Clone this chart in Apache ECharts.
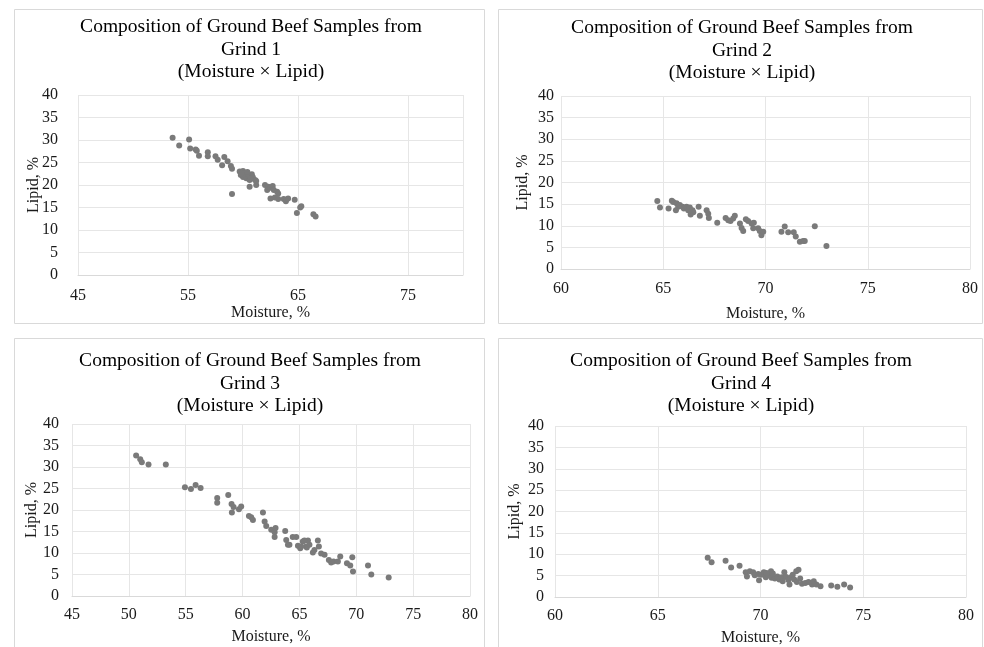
<!DOCTYPE html>
<html>
<head>
<meta charset="utf-8">
<script src="https://cdn.jsdelivr.net/npm/echarts@6/dist/echarts.min.js"></script>
<style>
  html, body { margin: 0; padding: 0; background: #fff; }
  #chart { width: 984px; height: 647px; }
</style>
</head>
<body>
<div id="chart"></div>
<script>
// [moisture %, lipid %]
var grind1 = [
  [53.6, 30.5], [54.2, 28.8], [55.1, 30.1], [55.2, 28.1], [55.7, 27.9], [55.8, 27.6],
  [56.0, 26.5], [56.8, 27.3], [56.8, 26.4], [57.5, 26.4], [57.7, 25.6], [58.1, 24.4],
  [58.3, 26.2], [58.6, 25.3], [58.9, 24.2], [59.0, 23.6], [59.0, 18.0], [59.7, 23.0],
  [59.8, 22.2], [60.0, 23.1], [60.2, 22.6], [60.0, 21.8], [60.3, 21.5], [60.5, 22.2],
  [60.6, 21.1], [60.6, 19.6], [60.8, 22.4], [60.9, 21.7], [61.1, 21.1], [61.2, 20.0],
  [61.2, 20.9], [60.4, 22.9], [60.7, 21.4], [59.9, 22.6], [62.0, 20.0], [62.2, 18.9],
  [62.3, 19.6], [62.5, 19.4], [62.7, 19.8], [62.8, 18.9], [63.1, 18.5], [63.2, 18.1],
  [62.5, 17.0], [62.9, 17.2], [63.2, 16.9], [63.7, 16.9], [63.9, 16.4], [64.1, 17.0],
  [64.7, 16.7], [64.9, 13.8], [65.2, 15.0], [65.3, 15.3], [66.4, 13.5], [66.6, 13.0]
];
var grind2 = [
  [64.71, 15.7], [64.84, 14.2], [65.26, 14.0], [65.42, 15.8], [65.49, 15.5], [65.65, 15.2],
  [65.62, 13.6], [65.73, 14.4], [65.81, 14.8], [65.94, 14.4], [66.01, 14.0], [66.14, 14.4],
  [66.22, 13.6], [66.30, 14.2], [66.34, 12.6], [66.43, 13.6], [66.47, 13.1], [66.73, 14.4],
  [66.79, 12.3], [67.12, 13.6], [67.20, 12.8], [67.23, 11.8], [67.64, 10.7], [68.05, 11.8],
  [68.18, 11.3], [68.29, 11.1], [68.42, 11.7], [68.50, 12.3], [68.75, 10.5], [68.83, 9.5],
  [68.91, 8.8], [69.04, 11.5], [69.15, 11.1], [69.32, 10.5], [69.40, 9.4], [69.43, 10.7],
  [69.64, 9.4], [69.72, 8.8], [69.80, 7.8], [69.89, 8.6], [70.78, 8.6], [70.94, 9.8],
  [71.11, 8.5], [71.38, 8.5], [71.48, 7.5], [71.68, 6.3], [71.84, 6.5], [71.92, 6.5],
  [72.41, 9.9], [72.98, 5.3]
];
var grind3 = [
  [50.64, 32.7], [51.0, 31.8], [51.14, 31.1], [51.73, 30.6], [53.25, 30.6], [54.93, 25.3],
  [55.46, 24.9], [55.87, 25.8], [56.31, 25.1], [57.77, 22.8], [57.77, 21.7], [58.74, 23.5],
  [59.03, 21.4], [59.06, 19.4], [59.21, 20.7], [59.68, 20.2], [59.88, 20.8], [60.56, 18.6],
  [60.76, 18.3], [60.91, 17.7], [61.79, 19.4], [61.94, 17.3], [62.08, 16.3], [62.52, 15.4],
  [62.82, 14.8], [62.9, 15.8], [62.82, 13.7], [63.75, 15.1], [63.84, 13.0], [63.99, 11.9],
  [64.72, 13.7], [64.87, 11.7], [65.07, 11.1], [65.3, 12.7], [65.6, 11.5], [65.75, 12.9],
  [64.41, 13.7], [64.12, 11.9], [65.44, 12.9], [65.65, 11.3], [65.15, 11.5], [65.88, 11.9],
  [66.18, 10.1], [66.32, 10.7], [66.62, 12.9], [66.71, 11.5], [66.91, 9.9], [67.21, 9.6],
  [67.59, 8.4], [67.79, 7.8], [68.0, 8.0], [68.38, 8.0], [68.59, 9.2], [69.18, 7.6],
  [69.47, 7.1], [69.65, 9.0], [69.71, 5.7], [71.03, 7.1], [71.32, 5.0], [72.85, 4.3]
];
var grind4 = [
  [67.43, 9.2], [67.62, 8.1], [68.30, 8.5], [68.57, 6.9], [68.98, 7.3], [69.28, 5.8],
  [69.34, 4.8], [69.48, 6.0], [69.64, 5.8], [69.72, 5.1], [69.89, 5.4], [69.93, 3.9],
  [70.05, 5.2], [70.16, 5.8], [70.26, 4.6], [70.38, 5.1], [70.51, 6.0], [70.54, 4.5],
  [70.70, 4.3], [70.82, 4.8], [70.92, 4.1], [71.03, 4.6], [71.08, 3.7], [71.16, 5.8],
  [71.25, 4.7], [71.36, 4.0], [71.41, 2.9], [71.48, 4.6], [71.57, 5.2], [71.64, 4.1],
  [71.74, 6.0], [71.85, 6.4], [71.77, 3.5], [71.93, 4.3], [72.02, 3.1], [72.18, 3.3],
  [72.34, 3.5], [72.51, 2.9], [72.59, 3.7], [72.72, 2.9], [72.92, 2.5], [73.44, 2.7],
  [73.74, 2.4], [74.07, 2.9], [74.36, 2.2], [70.6, 5.5], [70.3, 5.6]
];

var titles = ['Grind 1', 'Grind 2', 'Grind 3', 'Grind 4'];
// x axis ranges [min, max, interval] per panel
var xRanges = [[45, 80, 10], [60, 80, 5], [45, 80, 5], [60, 80, 5]];
var yRange = [0, 40, 5];

var serif = '"Liberation Serif", "Times New Roman", serif';
var chart = echarts.init(document.getElementById('chart'));

var grids = [
  { left: 78, top: 95, width: 385, height: 180 },
  { left: 561, top: 96, width: 409, height: 173 },
  { left: 72, top: 424, width: 398, height: 172 },
  { left: 555, top: 426, width: 411, height: 173 }
];
// label margins / name gaps differ a bit panel to panel
var xLabelMargin = [13, 12, 11, 11];
var xNameGap = [30, 37, 33, 33];
var yLabelMargin = [20, 7, 13, 11];
var yNameGap = [36, 30, 32, 32];
var titlePos = [[251, 16], [742, 17], [250, 350], [741, 350]];
var boxes = [[14, 9, 470, 314], [498, 9, 484, 314], [14, 338, 470, 320], [498, 338, 484, 320]];

var option = {
  animation: false,
  title: titles.map(function (t, i) {
    return {
      text: 'Composition of Ground Beef Samples from\n' + t + '\n(Moisture \u00d7 Lipid)',
      left: titlePos[i][0], top: titlePos[i][1], textAlign: 'center', padding: 0,
      textStyle: { fontFamily: serif, fontSize: 19.5, fontWeight: 'normal', color: '#000', lineHeight: 22.5 }
    };
  }),
  graphic: boxes.map(function (b) {
    return { type: 'rect', shape: { x: b[0] + 0.5, y: b[1] + 0.5, width: b[2], height: b[3] },
      style: { fill: 'none', stroke: '#d9d9d9', lineWidth: 1 }, silent: true };
  }),
  grid: grids,
  xAxis: xRanges.map(function (r, i) {
    return {
      type: 'value', gridIndex: i, min: r[0], max: r[1], interval: r[2],
      name: 'Moisture, %', nameLocation: 'middle', nameGap: xNameGap[i], nameMoveOverlap: false,
      nameTextStyle: { fontFamily: serif, fontSize: 16, color: '#1a1a1a' },
      axisLine: { show: true, lineStyle: { color: '#d9d9d9' } },
      axisTick: { show: false },
      axisLabel: { fontFamily: serif, fontSize: 16, color: '#1a1a1a', margin: xLabelMargin[i],
        showMaxLabel: i !== 0 },
      splitLine: { show: true, lineStyle: { color: '#e6e6e6', width: 1 } }
    };
  }),
  yAxis: grids.map(function (g, i) {
    return {
      type: 'value', gridIndex: i, min: yRange[0], max: yRange[1], interval: yRange[2],
      name: 'Lipid, %', nameLocation: 'middle', nameGap: yNameGap[i], nameMoveOverlap: false,
      nameTextStyle: { fontFamily: serif, fontSize: 16, color: '#1a1a1a' },
      axisLine: { show: false },
      axisTick: { show: false },
      axisLabel: { fontFamily: serif, fontSize: 16, color: '#1a1a1a', margin: yLabelMargin[i] },
      splitLine: { show: true, lineStyle: { color: '#e6e6e6', width: 1 } }
    };
  }),
  series: [grind1, grind2, grind3, grind4].map(function (d, i) {
    return {
      type: 'scatter', xAxisIndex: i, yAxisIndex: i, data: d,
      symbolSize: 6, itemStyle: { color: '#7a7a7a', opacity: 1 }
    };
  })
};

chart.setOption(option);
</script>
</body>
</html>
